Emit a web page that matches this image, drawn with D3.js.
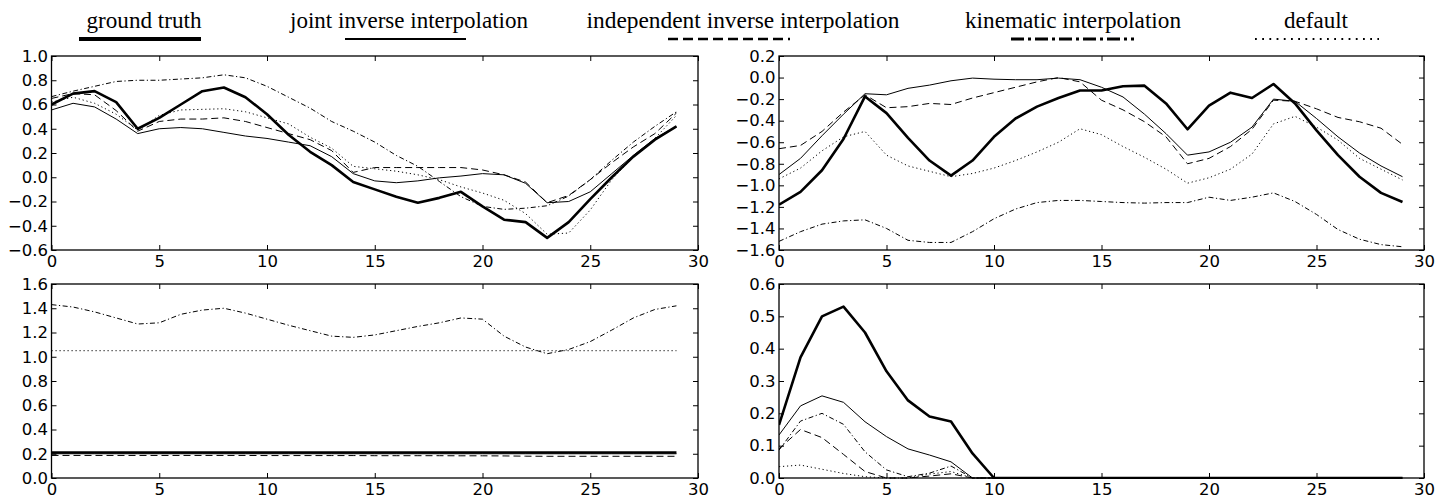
<!DOCTYPE html>
<html>
<head>
<meta charset="utf-8">
<script src="https://cdn.jsdelivr.net/npm/d3@7"></script>
<style>
  html, body { margin: 0; padding: 0; background: #fff; }
  svg { display: block; }
  .tick text { font-family: "DejaVu Sans", sans-serif; font-size: 16.5px; fill: #000; }
  .legend text { font-family: "Liberation Serif", "Times New Roman", serif; font-size: 24px; fill: #000; }
</style>
</head>
<body>
<svg id="chart" width="1452" height="502"></svg>
<script>
// Frame index shared by every panel
const frames = [0,1,2,3,4,5,6,7,8,9,10,11,12,13,14,15,16,17,18,19,20,21,22,23,24,25,26,27,28,29];

// Series names, in legend order
const seriesNames = ["ground truth", "joint inverse interpolation", "independent inverse interpolation", "kinematic interpolation", "default"];

// Panel A (top left)
const truthA = [0.60,0.69,0.71,0.62,0.40,0.49,0.60,0.71,0.74,0.66,0.52,0.35,0.21,0.10,-0.04,-0.10,-0.16,-0.21,-0.17,-0.12,-0.24,-0.35,-0.37,-0.50,-0.37,-0.18,0.00,0.17,0.31,0.42];
const jointA = [0.555,0.61,0.58,0.48,0.36,0.40,0.41,0.40,0.37,0.34,0.32,0.29,0.26,0.17,0.03,-0.03,-0.045,-0.03,-0.005,0.01,0.03,0.02,-0.05,-0.21,-0.20,-0.12,0.03,0.18,0.32,0.42];
const indepA = [0.65,0.69,0.68,0.55,0.38,0.46,0.48,0.48,0.49,0.46,0.41,0.36,0.31,0.22,0.04,0.08,0.08,0.08,0.08,0.08,0.06,0.02,-0.04,-0.21,-0.15,-0.02,0.12,0.25,0.36,0.53];
const kinA   = [0.665,0.71,0.75,0.79,0.80,0.80,0.81,0.82,0.845,0.82,0.75,0.66,0.57,0.46,0.38,0.29,0.18,0.09,-0.035,-0.16,-0.24,-0.265,-0.255,-0.235,-0.155,-0.02,0.14,0.29,0.42,0.54];
const defA   = [0.62,0.66,0.61,0.52,0.39,0.51,0.555,0.56,0.565,0.54,0.49,0.44,0.33,0.24,0.09,0.07,0.05,0.02,-0.02,-0.08,-0.13,-0.19,-0.30,-0.47,-0.46,-0.27,-0.02,0.17,0.32,0.51];

// Panel B (top right)
const truthB = [-1.18,-1.06,-0.86,-0.57,-0.175,-0.33,-0.56,-0.77,-0.91,-0.77,-0.55,-0.38,-0.27,-0.19,-0.12,-0.12,-0.08,-0.075,-0.24,-0.48,-0.26,-0.14,-0.19,-0.06,-0.24,-0.49,-0.72,-0.92,-1.07,-1.155];
const jointB = [-0.90,-0.75,-0.54,-0.34,-0.15,-0.16,-0.10,-0.07,-0.03,-0.005,-0.015,-0.02,-0.02,-0.005,-0.02,-0.09,-0.18,-0.34,-0.52,-0.72,-0.69,-0.60,-0.46,-0.20,-0.22,-0.38,-0.55,-0.70,-0.82,-0.92];
const indepB = [-0.66,-0.63,-0.50,-0.32,-0.16,-0.28,-0.27,-0.24,-0.25,-0.19,-0.14,-0.09,-0.04,0.00,-0.04,-0.21,-0.30,-0.41,-0.55,-0.80,-0.75,-0.64,-0.48,-0.21,-0.22,-0.29,-0.37,-0.41,-0.47,-0.62];
const kinB   = [-1.52,-1.43,-1.36,-1.33,-1.32,-1.40,-1.51,-1.53,-1.53,-1.43,-1.31,-1.22,-1.16,-1.14,-1.14,-1.15,-1.16,-1.165,-1.16,-1.16,-1.11,-1.14,-1.11,-1.07,-1.15,-1.27,-1.41,-1.50,-1.55,-1.57];
const defB   = [-0.94,-0.84,-0.68,-0.55,-0.50,-0.72,-0.82,-0.87,-0.92,-0.89,-0.84,-0.77,-0.69,-0.60,-0.475,-0.53,-0.64,-0.74,-0.85,-0.98,-0.93,-0.85,-0.71,-0.43,-0.36,-0.46,-0.58,-0.75,-0.85,-0.95];

// Panel C (bottom left)
const truthC = [0.21,0.21,0.21,0.21,0.21,0.21,0.21,0.21,0.21,0.21,0.21,0.21,0.21,0.21,0.21,0.21,0.21,0.21,0.21,0.21,0.21,0.21,0.21,0.21,0.21,0.21,0.21,0.21,0.21,0.21];
const jointC = [0.20,0.20,0.20,0.20,0.20,0.20,0.20,0.20,0.20,0.20,0.20,0.20,0.20,0.20,0.20,0.20,0.20,0.20,0.20,0.20,0.20,0.20,0.20,0.20,0.20,0.20,0.20,0.20,0.20,0.20];
const indepC = [0.186,0.186,0.186,0.186,0.186,0.186,0.186,0.186,0.186,0.186,0.185,0.185,0.185,0.185,0.185,0.184,0.184,0.184,0.184,0.183,0.183,0.182,0.180,0.179,0.179,0.179,0.179,0.179,0.179,0.179];
const kinC   = [1.43,1.41,1.37,1.32,1.27,1.28,1.35,1.385,1.40,1.36,1.31,1.26,1.215,1.17,1.16,1.18,1.215,1.25,1.28,1.32,1.31,1.17,1.08,1.025,1.06,1.125,1.22,1.32,1.39,1.42];
const defC   = [1.05,1.05,1.05,1.05,1.05,1.05,1.05,1.05,1.05,1.05,1.05,1.05,1.05,1.05,1.05,1.05,1.05,1.05,1.05,1.05,1.05,1.05,1.05,1.05,1.05,1.05,1.05,1.05,1.05,1.05];

// Panel D (bottom right)
const truthD = [0.164,0.373,0.50,0.53,0.45,0.33,0.24,0.19,0.175,0.076,0,0,0,0,0,0,0,0,0,0,0,0,0,0,0,0,0,0,0,0];
const jointD = [0.133,0.223,0.254,0.234,0.174,0.128,0.09,0.071,0.05,0,0,0,0,0,0,0,0,0,0,0,0,0,0,0,0,0,0,0,0,0];
const indepD = [0.09,0.15,0.125,0.073,0.02,0,0,0.006,0.013,0,0,0,0,0,0,0,0,0,0,0,0,0,0,0,0,0,0,0,0,0];
const kinD   = [0.086,0.176,0.20,0.166,0.081,0.025,0.004,0.015,0.037,0,0,0,0,0,0,0,0,0,0,0,0,0,0,0,0,0,0,0,0,0];
const defD   = [0.035,0.04,0.027,0.014,0.004,0,0,0.012,0.02,0,0,0,0,0,0,0,0,0,0,0,0,0,0,0,0,0,0,0,0,0];

// Axis ticks
const xTicks  = [0,5,10,15,20,25,30];
const yTicksA = [-0.6,-0.4,-0.2,0.0,0.2,0.4,0.6,0.8,1.0];
const yTicksB = [-1.6,-1.4,-1.2,-1.0,-0.8,-0.6,-0.4,-0.2,0.0,0.2];
const yTicksC = [0.0,0.2,0.4,0.6,0.8,1.0,1.2,1.4,1.6];
const yTicksD = [0.0,0.1,0.2,0.3,0.4,0.5,0.6];

// Line styles per series (plot, legend)
const styles = [
  { w: 2.6, dash: null,            lw: 4.2, ldash: null },
  { w: 1.0, dash: null,            lw: 2.2, ldash: null },
  { w: 1.0, dash: "7,4",           lw: 2.6, ldash: "10,5" },
  { w: 1.0, dash: "5,2.5,1.2,2.5", lw: 3.0, ldash: "13,4,3,4" },
  { w: 1.0, dash: "1.2,2.8",       lw: 2.0, ldash: "1.8,5.4" }
];

const panels = [
  { x0: 51.5, x1: 698,  y0: 56,  y1: 250, ydom: [-0.6, 1.0], yt: yTicksA, series: [truthA, jointA, indepA, kinA, defA] },
  { x0: 779,  x1: 1424, y0: 56,  y1: 250, ydom: [-1.6, 0.2], yt: yTicksB, series: [truthB, jointB, indepB, kinB, defB] },
  { x0: 51.5, x1: 698,  y0: 284, y1: 478, ydom: [0.0, 1.6],  yt: yTicksC, series: [truthC, jointC, indepC, kinC, defC] },
  { x0: 779,  x1: 1424, y0: 284, y1: 478, ydom: [0.0, 0.6],  yt: yTicksD, series: [truthD, jointD, indepD, kinD, defD] }
];

const svg = d3.select("#chart");
const fmtY = d3.format(".1f");

panels.forEach((p, i) => {
  const x = d3.scaleLinear().domain([0, 30]).range([p.x0, p.x1]);
  const y = d3.scaleLinear().domain(p.ydom).range([p.y1, p.y0]);
  const g = svg.append("g");

  g.append("clipPath").attr("id", "clip" + i)
    .append("rect").attr("x", p.x0).attr("y", p.y0 - 1)
    .attr("width", p.x1 - p.x0).attr("height", p.y1 - p.y0 + 2);

  const line = d3.line().x((d, k) => x(frames[k])).y(d => y(d));
  const plot = g.append("g").attr("clip-path", "url(#clip" + i + ")");
  p.series.forEach((vals, s) => {
    const st = styles[s];
    plot.append("path").datum(vals)
      .attr("fill", "none").attr("stroke", "#000")
      .attr("stroke-width", st.w)
      .attr("stroke-linejoin", "round")
      .attr("stroke-dasharray", st.dash)
      .attr("d", line);
  });

  // Ticks point inward on every side
  const ax = [
    { a: d3.axisBottom(x).tickValues(xTicks).tickFormat(d3.format("d")), t: `translate(0,${p.y1})` },
    { a: d3.axisTop(x).tickValues(xTicks).tickFormat(""), t: `translate(0,${p.y0})` },
    { a: d3.axisLeft(y).tickValues(p.yt).tickFormat(fmtY), t: `translate(${p.x0},0)` },
    { a: d3.axisRight(y).tickValues(p.yt).tickFormat(""), t: `translate(${p.x1},0)` }
  ];
  ax.forEach((o, k) => {
    const ag = g.append("g").attr("transform", o.t)
      .call(o.a.tickSizeInner(-5).tickSizeOuter(0).tickPadding(k === 0 ? 5.5 : 3.5));
    ag.select(".domain").remove();
    ag.selectAll(".tick line").attr("stroke", "#000").attr("stroke-width", 1);
  });

  g.append("rect").attr("x", p.x0).attr("y", p.y0)
    .attr("width", p.x1 - p.x0).attr("height", p.y1 - p.y0)
    .attr("fill", "none").attr("stroke", "#000").attr("stroke-width", 1.3);
});

// Legend: label with a line sample beneath it
const legendText = [
  { cx: 144,  w: 115 },
  { cx: 409,  w: 238 },
  { cx: 743,  w: 313 },
  { cx: 1073, w: 216 },
  { cx: 1316, w: 64 }
];
const legendLine = [[79, 201], [345, 466], [668, 790], [1011, 1134], [1255, 1379]];

const lg = svg.append("g").attr("class", "legend");
seriesNames.forEach((name, s) => {
  lg.append("text")
    .attr("x", legendText[s].cx).attr("y", 28)
    .attr("text-anchor", "middle")
    .attr("textLength", legendText[s].w)
    .attr("lengthAdjust", "spacingAndGlyphs")
    .text(name);
  lg.append("line")
    .attr("x1", legendLine[s][0]).attr("x2", legendLine[s][1])
    .attr("y1", 39).attr("y2", 39)
    .attr("stroke", "#000")
    .attr("stroke-width", styles[s].lw)
    .attr("stroke-dasharray", styles[s].ldash);
});
</script>
</body>
</html>
